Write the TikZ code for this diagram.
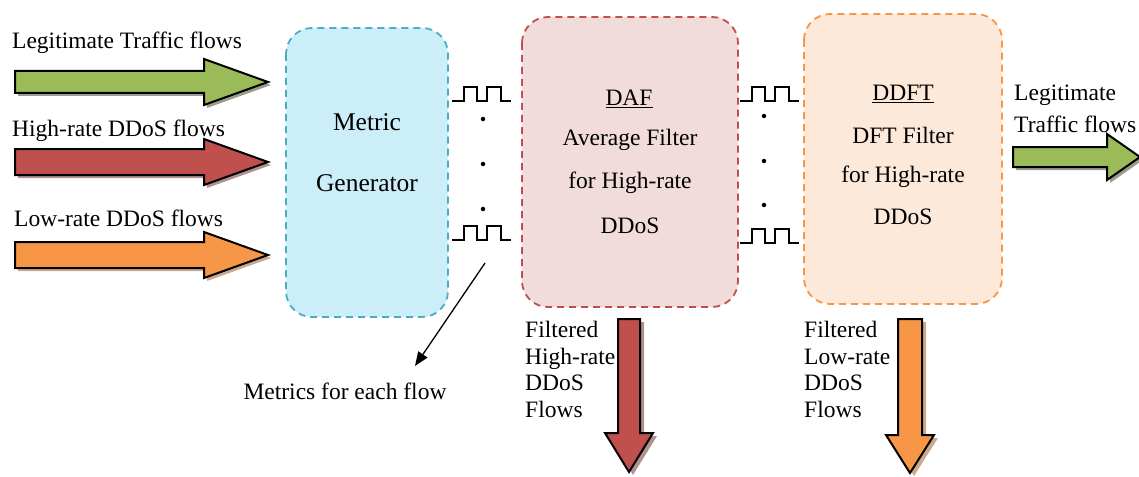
\documentclass[tikz,border=0pt]{standalone}
\usepackage{fontspec}
\setmainfont{Liberation Serif}
\usetikzlibrary{arrows.meta}
\definecolor{gfill}{HTML}{9BBB59}
\definecolor{gshad}{HTML}{9A9E88}
\definecolor{rfill}{HTML}{C0504D}
\definecolor{rshad}{HTML}{B09090}
\definecolor{ofill}{HTML}{F79646}
\definecolor{oshad}{HTML}{CCA88C}
\definecolor{cyanfill}{HTML}{CCEEF8}
\definecolor{cyanline}{HTML}{4BACC6}
\definecolor{pinkfill}{HTML}{F2DCDB}
\definecolor{redline}{HTML}{C0504D}
\definecolor{peachfill}{HTML}{FDE9D9}
\definecolor{orangeline}{HTML}{F79646}
\tikzset{
  txt/.style={inner sep=0pt,font=\rmfamily\fontsize{23.5}{28}\selectfont},
  ltxt/.style={txt,anchor=west},
  stage/.style={rounded corners=26pt,line width=1.8pt,dash pattern=on 7pt off 5pt},
  blk/.style={draw=black,line width=2pt,line join=miter},
  wave/.style={line width=2pt,line cap=butt},
  dot/.style={circle,fill=black,inner sep=0pt,minimum size=4.5pt},
}
% right block arrow: #1 x tail, #2 x head base, #3 x tip, #4 y centre, #5 shaft half, #6 head half, #7 fill, #8 shadow
\newcommand\rblock[8]{%
  \fill[#8] (#1+3,#4-#5+3) -- (#2+3,#4-#5+3) -- (#2+3,#4-#6+3) -- (#3+3,#4+3) -- (#2+3,#4+#6+3) -- (#2+3,#4+#5+3) -- (#1+3,#4+#5+3) -- cycle;
  \draw[blk,fill=#7] (#1,#4-#5) -- (#2,#4-#5) -- (#2,#4-#6) -- (#3,#4) -- (#2,#4+#6) -- (#2,#4+#5) -- (#1,#4+#5) -- cycle;}
% down block arrow: #1 y tail, #2 y head base, #3 y tip, #4 x centre, #5 shaft half, #6 head half
\newcommand\dblock[8]{%
  \fill[#8] (#4-#5+4,#1+3) -- (#4-#5+4,#2+3) -- (#4-#6+4,#2+3) -- (#4+4,#3+3) -- (#4+#6+4,#2+3) -- (#4+#5+4,#2+3) -- (#4+#5+4,#1+3) -- cycle;
  \draw[blk,fill=#7] (#4-#5,#1) -- (#4-#5,#2) -- (#4-#6,#2) -- (#4,#3) -- (#4+#6,#2) -- (#4+#5,#2) -- (#4+#5,#1) -- cycle;}
% square wave starting at (#1,#2) low level, high = #2-14
\newcommand\sqwave[2]{%
  \draw[wave] (#1,#2) -- ++(12,0) -- ++(0,-14) -- ++(13,0) -- ++(0,14) -- ++(10,0) -- ++(0,-14) -- ++(14,0) -- ++(0,14) -- ++(10,0);}
\begin{document}
\begin{tikzpicture}[x=1pt,y=-1pt]
\useasboundingbox (0,0) rectangle (1139,476);

% stage boxes
\draw[stage,draw=cyanline,fill=cyanfill] (286,28) rectangle (448,317);
\node (mg) at (367,172) {};
\draw[stage,draw=redline,fill=pinkfill] (522,17) rectangle (738,307);
\node (daf) at (630,162) {};
\draw[stage,draw=orangeline,fill=peachfill] (804,14) rectangle (1002,304);
\node (ddft) at (903,159) {};

% texts in boxes
\node[txt,font=\rmfamily\fontsize{25.5}{30}\selectfont] (t1) at (367,122) {Metric};
\node[txt,font=\rmfamily\fontsize{25.5}{30}\selectfont] (t2) at (367,183) {Generator};
\node[txt] (d1) at (629,99) {\underline{DAF}};
\node[txt] (d2) at (630,140) {Average Filter};
\node[txt] (d3) at (630,183) {for High-rate};
\node[txt] (d4) at (630,226) {DDoS};
\node[txt] (f1) at (903,94) {\underline{DDFT}};
\node[txt] (f2) at (903,135) {DFT Filter};
\node[txt] (f3) at (903,177) {for High-rate};
\node[txt] (f4) at (903,217) {DDoS};

% left labels and arrows
\node[ltxt] (l1) at (12,43) {Legitimate Traffic flows};
\node[ltxt] (l2) at (12,131) {High-rate DDoS flows};
\node[ltxt] (l3) at (14,218) {Low-rate DDoS flows};
\rblock{15}{204}{268}{82}{11}{23}{gfill}{gshad}
\rblock{15}{204}{268}{162}{13}{23}{rfill}{rshad}
\rblock{15}{204}{268}{255}{13}{23}{ofill}{oshad}

% waves and dots
\sqwave{452}{101}
\sqwave{452}{240}
\node[dot] (a1) at (483,119) {};
\node[dot] (a2) at (483,164) {};
\node[dot] (a3) at (483,209) {};
\sqwave{740}{101}
\sqwave{740}{243}
\node[dot] (b1) at (764,116) {};
\node[dot] (b2) at (764,161) {};
\node[dot] (b3) at (764,205) {};

% metrics arrow
\coordinate (ms) at (485,263);
\coordinate (me) at (415,366);
\node[txt] (met) at (345,391) {Metrics for each flow};
\draw[line width=1.3pt,-{Triangle[length=14pt,width=11pt]}] (ms) -- (me);

% right output
\node[ltxt] (r1) at (1014,95) {Legitimate};
\node[ltxt] (r2) at (1014,124) {Traffic flows};
\rblock{1013}{1107}{1140}{157}{10}{23}{gfill}{gshad}

% filtered outputs
\node[txt,anchor=north west,align=left,font=\rmfamily\fontsize{23.5}{26.5}\selectfont] (hf) at (525,321) {Filtered\\High-rate\\DDoS\\Flows};
\dblock{319}{433}{472}{629}{11}{24}{rfill}{rshad}
\node[txt,anchor=north west,align=left,font=\rmfamily\fontsize{23.5}{26.5}\selectfont] (lf) at (804,321) {Filtered\\Low-rate\\DDoS\\Flows};
\dblock{319}{435}{473}{910}{12}{24}{ofill}{oshad}
\end{tikzpicture}
\end{document}
